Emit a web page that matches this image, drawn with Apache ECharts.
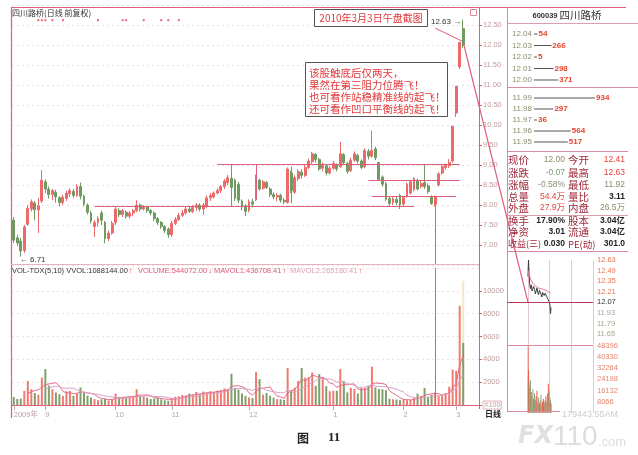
<!DOCTYPE html>
<html>
<head>
<meta charset="utf-8">
<script src="https://cdn.jsdelivr.net/npm/echarts@6/dist/echarts.min.js"></script>
<style>
html,body{margin:0;padding:0;background:#fff;}
#c{width:638px;height:455px;}
</style>
</head>
<body>
<div id="c"></div>
<script>
// 四川路桥 600039 daily bars, [open, close, low, high]
const candles = [
  [7.62,7.12,7.05,7.70],[7.18,7.05,6.98,7.25],[7.10,6.85,6.71,7.18],[6.86,7.45,6.80,7.50],
  [7.52,7.92,7.48,8.00],[7.90,8.08,7.84,8.14],[8.05,7.88,7.62,8.10],[7.88,7.98,7.30,8.18],
  [8.10,8.62,8.05,8.87],[8.58,8.40,8.30,8.64],[8.40,8.26,8.16,8.46],[8.26,8.36,8.12,8.40],
  [8.32,8.20,8.06,8.38],[8.18,8.06,7.96,8.22],[8.06,8.20,8.00,8.26],[8.16,8.30,8.10,8.36],
  [8.28,8.36,8.20,8.42],[8.34,8.24,8.18,8.40],[8.24,8.46,8.20,8.52],[8.46,8.22,8.14,8.56],
  [8.22,8.02,7.96,8.26],[8.00,7.82,7.76,8.04],[7.80,7.60,7.54,7.86],[7.46,7.56,7.20,7.62],
  [7.56,7.66,7.46,7.72],[7.80,7.62,7.50,7.86],[7.56,7.16,7.04,7.60],[7.16,7.30,7.10,7.36],
  [7.30,7.54,7.26,7.60],[7.56,7.90,7.50,7.95],[7.86,7.76,7.70,7.92],[7.76,7.86,7.70,7.90],
  [7.82,7.72,7.66,7.86],[7.72,7.80,7.66,7.85],[7.80,7.86,7.72,7.90],[7.86,8.00,7.82,8.12],
  [8.00,7.90,7.84,8.04],[7.90,7.96,7.86,8.00],[7.96,7.86,7.80,7.98],[7.86,7.80,7.74,7.90],
  [7.80,7.66,7.60,7.84],[7.66,7.56,7.50,7.70],[7.56,7.46,7.40,7.60],[7.46,7.36,7.30,7.50],
  [7.40,7.26,7.18,7.44],[7.26,7.54,7.20,7.60],[7.54,7.64,7.50,7.70],[7.64,7.74,7.60,7.80],
  [7.74,7.80,7.70,7.88],[7.80,7.90,7.76,7.95],[7.90,7.84,7.80,7.98],[7.84,7.94,7.80,8.00],
  [7.94,8.00,7.86,8.05],[8.00,7.90,7.84,8.04],[7.90,8.00,7.75,8.05],[7.96,8.18,7.92,8.24],
  [8.18,8.24,8.10,8.30],[8.20,8.30,8.16,8.34],[8.30,8.36,8.26,8.42],[8.36,8.46,8.30,8.50],
  [8.46,8.60,8.40,8.65],[8.56,8.68,8.50,8.75],[8.66,8.44,8.40,8.72],[8.62,8.16,8.10,8.66],
  [8.52,8.12,8.05,8.58],[8.10,7.96,7.86,8.14],[7.98,7.84,7.72,8.02],[7.86,8.08,7.82,8.14],
  [8.08,8.02,7.94,8.16],[8.14,8.70,8.10,8.76],[8.62,8.40,8.36,8.66],[8.42,8.58,8.38,8.62],
  [8.56,8.44,8.40,8.60],[8.40,8.26,8.20,8.44],[8.26,8.20,8.14,8.32],[8.20,8.24,8.10,8.30],
  [8.24,8.12,8.06,8.28],[8.12,8.08,8.02,8.18],[8.06,8.90,8.04,8.94],[8.80,8.36,8.30,8.86],
  [8.32,8.68,8.28,8.74],[8.66,8.84,8.60,8.90],[8.82,8.74,8.66,8.90],[8.74,8.94,8.70,9.00],
  [8.94,9.10,8.90,9.16],[9.08,9.28,9.02,9.33],[9.26,9.14,9.06,9.30],[9.14,8.90,8.86,9.18],
  [8.92,9.00,8.84,9.06],[8.98,8.80,8.74,9.02],[8.80,8.92,8.76,8.98],[8.92,9.04,8.88,9.10],
  [9.00,8.90,8.84,9.04],[8.96,9.28,8.92,9.58],[9.26,9.06,9.00,9.30],[9.04,8.84,8.78,9.08],
  [8.86,9.12,8.82,9.18],[9.12,9.28,9.08,9.34],[9.24,9.10,9.04,9.28],[9.10,8.94,8.90,9.14],
  [8.96,9.36,8.92,9.42],[9.34,9.22,9.14,9.40],[9.22,9.36,9.18,9.86],[9.40,9.18,9.12,9.46],
  [9.06,8.64,8.60,9.08],[8.70,8.52,8.46,8.74],[8.54,8.14,8.10,8.58],[8.16,8.04,7.98,8.22],
  [8.06,8.16,8.00,8.22],[8.14,8.06,8.00,8.20],[8.24,8.00,7.90,8.28],[8.02,8.18,7.98,8.22],
  [8.22,8.52,8.18,8.56],[8.30,8.58,8.26,8.62],[8.38,8.66,8.34,8.70],[8.62,8.40,8.36,8.66],
  [8.46,8.54,8.42,8.60],[8.56,8.46,8.40,9.00],[8.48,8.34,8.28,8.54],[8.20,8.04,8.00,8.24],
  [8.02,8.20,7.96,8.24],[8.50,8.78,8.46,8.82],[8.80,8.96,8.76,9.00],[8.94,9.00,8.88,9.04],
  [8.98,9.06,8.92,9.15],[9.10,9.97,9.05,9.97],[10.30,10.97,10.20,10.97],[11.45,12.07,11.40,12.07],
  [12.41,12.00,11.92,12.63]
];

// daily volume, in lots of 100 shares
const volumes = [
  700,520,560,1240,2100,1380,1050,900,2400,3150,1700,1380,1090,940,800,1200,
  1240,800,1000,1530,1100,820,650,520,420,500,560,400,480,1000,700,650,
  660,700,800,1380,780,760,650,520,560,620,500,420,380,600,720,760,
  880,820,1000,900,1150,950,1180,1100,1200,1150,1250,1300,1450,1400,2740,1500,
  1350,1000,800,650,600,2880,2260,900,1050,800,650,520,500,450,3240,1300,
  1500,2100,3240,2400,2450,2850,1680,2700,2400,1650,1200,1250,1250,3150,2100,1100,
  1500,1400,1000,1500,1500,1700,3360,1550,1400,1380,1300,550,500,480,420,500,
  420,440,600,1000,800,1500,700,900,1100,780,852.6205,1050,1600,3100,3000,8694.7005,
  5440.72
];
const vvol = 10881.44;           // projected full-day volume for the last session

const slotCount = 133;           // daily slots on the time axis (last 4 left empty)
const monthIdx = [0, 9, 29, 45, 67, 91, 111, 126];
const monthText = ['2009年', '9', '10', '11', '12', '1', '2', '3'];
const infoMarks = [7, 8, 9, 11, 14, 24, 31, 32, 37, 42, 44, 47];

// guide lines drawn over the daily bars: [fromIdx, fromPrice, toIdx, toPrice]
const guides = [
  [58, 9.02, 127, 9.02],
  [23, 7.96, 114, 7.96],
  [101, 8.61, 127, 8.61],
  [102, 8.21, 126, 8.21],
  [62, 9.02, 62, 7.96],
  [69, 9.02, 69, 8.12],
  [79, 8.96, 79, 8.04],
  [120, 8.21, 120, 6.5]
];
const guideVolIdx = 120;

// intraday (minutes after 9:30)
const intraMin   = [0,1,2,4,6,9,12,15,18,21,24,27,30,33,36,39,42,45,48,51,54,57,60,63,66,69,72,75,78,81,83,85];
const intraPrice = [12.41,12.55,12.63,12.45,12.32,12.25,12.30,12.22,12.20,12.28,12.24,12.18,12.22,12.26,12.20,12.17,
                    12.23,12.25,12.18,12.14,12.20,12.22,12.16,12.19,12.21,12.15,12.12,12.14,12.08,12.03,11.92,12.00];
const intraAvg   = [12.41,12.45,12.48,12.46,12.42,12.38,12.36,12.34,12.32,12.31,12.30,12.29,12.28,12.28,12.27,12.26,
                    12.26,12.26,12.25,12.24,12.24,12.24,12.23,12.23,12.23,12.22,12.22,12.21,12.21,12.20,12.19,12.19];
const intraVol   = [48396,26000,31000,22000,18000,24000,15000,12000,17000,10000,14000,9000,12000,16000,8000,11000,
                    7000,9000,13000,6000,8000,10000,7000,9000,12000,8000,14000,21000,16000,11000,9000,7000];
const prevClose = 12.07;

// order book
const askPrices = ['12.04', '12.03', '12.02', '12.01', '12.00'];
const askVols = [54, 266, 5, 298, 371];
const bidPrices = ['11.99', '11.98', '11.97', '11.96', '11.95'];
const bidVols = [934, 297, 36, 564, 517];

// quote table
const quoteLabelsL = ['现价', '涨跌', '涨幅', '总量', '外盘', '换手', '净资', '收益(三)'];
const quoteValuesL = ['12.00', '-0.07', '-0.58%', '54.4万', '27.9万', '17.90%', '3.01', '0.030'];
const quoteLabelsR = ['今开', '最高', '最低', '量比', '内盘', '股本', '流通', 'PE(动)'];
const quoteValuesR = ['12.41', '12.63', '11.92', '3.11', '26.5万', '3.04亿', '3.04亿', '301.0'];

const noteLines = ['该股触底后仅两天，', '果然在第三阻力位腾飞！', '也可看作站稳精准线的起飞！', '还可看作凹口平衡线的起飞！'];

// ---------------------------------------------------------------
const SANS = '"Liberation Sans","Noto Sans CJK SC",sans-serif';
const CJK = '"Noto Sans CJK SC","Liberation Sans",sans-serif';
const RED = '#ee6a6a', GREEN = '#6f9a62';
const VRED = '#f07a70', VGREEN = '#7f9f6b';
const PINK = '#dc5f7c';
const AXIS_TXT = '#c29c9c';

const movingAvg = (arr, n) => arr.map((v, i) => {
  if (i < n - 1) return '-';
  let s = 0;
  for (let k = i - n + 1; k <= i; k++) s += arr[k];
  return s / n;
});
const ma5 = movingAvg(volumes, 5);
const ma10 = movingAvg(volumes, 10);
const last = candles.length - 1;
const isUp = i => candles[i][1] >= candles[i][0];

const xCats = Array.from({length: slotCount}, (_, i) => String(i));
const monthSet = new Set(monthIdx);

let lowIdx = 0, highIdx = 0;
candles.forEach((c, i) => {
  if (c[2] < candles[lowIdx][2]) lowIdx = i;
  if (c[3] > candles[highIdx][3]) highIdx = i;
});
const lowVal = candles[lowIdx][2], highVal = candles[highIdx][3];

const chart = echarts.init(document.getElementById('c'), null, {renderer: 'canvas'});

const gridBase = {containLabel: false, outerBoundsMode: 'none'};
const hiddenAxis = {axisLine: {show: false}, axisTick: {show: false}, axisLabel: {show: false}, splitLine: {show: false}};

const option = {
  animation: false,
  backgroundColor: '#fff',
  textStyle: {fontFamily: SANS},
  grid: [
    Object.assign({left: 12, top: 5, width: 467, height: 260}, gridBase),
    Object.assign({left: 12, top: 268, width: 467, height: 137}, gridBase),
    Object.assign({left: 528, top: 260, width: 65, height: 84.6}, gridBase),
    Object.assign({left: 528, top: 346, width: 65, height: 66.8}, gridBase),
    Object.assign({left: 534, top: 28.25, width: 91.4, height: 57.5}, gridBase),
    Object.assign({left: 534, top: 92.5, width: 91.4, height: 55}, gridBase)
  ],
  xAxis: [
    Object.assign({type: 'category', gridIndex: 0, data: xCats, boundaryGap: true}, hiddenAxis),
    {
      type: 'category', gridIndex: 1, data: xCats, boundaryGap: true, offset: 3,
      axisLine: {show: true, lineStyle: {color: PINK, width: 1}},
      axisTick: {show: true, alignWithLabel: true, length: 5, interval: i => monthSet.has(i), lineStyle: {color: '#c9a4ac'}},
      axisLabel: {
        show: true, interval: i => monthSet.has(i), align: 'left', margin: 3,
        fontSize: 7.5, color: '#b9a2a2',
        formatter: (v, i) => monthText[monthIdx.indexOf(i)] || ''
      },
      splitLine: {show: false}
    },
    {type: 'value', gridIndex: 2, min: 0, max: 240, interval: 80,
     axisLine: {show: false}, axisTick: {show: false}, axisLabel: {show: false},
     splitLine: {show: true, lineStyle: {color: '#ebc6cf', width: 1}}},
    {type: 'value', gridIndex: 3, min: 0, max: 240, interval: 80,
     axisLine: {show: false}, axisTick: {show: false}, axisLabel: {show: false},
     splitLine: {show: true, lineStyle: {color: '#ebc6cf', width: 1}}},
    Object.assign({type: 'value', gridIndex: 4, min: 0, max: 1400}, hiddenAxis),
    Object.assign({type: 'value', gridIndex: 5, min: 0, max: 1400}, hiddenAxis)
  ],
  yAxis: [
    {
      type: 'value', gridIndex: 0, position: 'right', min: 6.5, max: 13, interval: 0.5,
      axisLine: {show: false},
      axisTick: {show: true, length: 3, lineStyle: {color: PINK}},
      axisLabel: {fontSize: 7.5, color: AXIS_TXT, margin: 4, showMinLabel: false, showMaxLabel: false,
                  formatter: v => v.toFixed(2)},
      splitLine: {show: true, lineStyle: {color: '#ebe3e3', type: [2, 3], width: 1}}
    },
    {
      type: 'value', gridIndex: 1, position: 'right', min: 0, max: 12000, interval: 2000,
      axisLine: {show: false},
      axisTick: {show: true, length: 3, lineStyle: {color: PINK}},
      axisLabel: {
        fontSize: 7.5, color: AXIS_TXT, margin: 4, showMaxLabel: false,
        formatter: v => v === 0 ? '{b|X100}' : String(v),
        rich: {b: {fontSize: 7, color: AXIS_TXT, borderColor: '#d9a0ae', borderWidth: 0.8, padding: [1, 1, 0, 1], lineHeight: 9}}
      },
      splitLine: {show: true, lineStyle: {color: '#ebe3e3', type: [2, 3], width: 1}}
    },
    {
      type: 'value', gridIndex: 2, position: 'right', min: 11.51, max: 12.63, interval: 0.14,
      axisLine: {show: false}, axisTick: {show: false}, splitLine: {show: false},
      axisLabel: {
        fontSize: 7.5, margin: 4, showMinLabel: false,
        formatter: v => v.toFixed(2),
        color: v => Math.abs(v - prevClose) < 0.005 ? '#333' : (v > prevClose ? '#e8744e' : '#a3ab93')
      }
    },
    {
      type: 'value', gridIndex: 3, position: 'right', min: 0, max: 48396, interval: 8066,
      axisLine: {show: false}, axisTick: {show: false}, splitLine: {show: false},
      axisLabel: {fontSize: 7.5, margin: 4, showMinLabel: false, color: '#e8846e', formatter: v => String(v)}
    },
    {type: 'category', gridIndex: 4, data: askPrices, inverse: true,
     axisLine: {show: false}, axisTick: {show: false}, splitLine: {show: false},
     axisLabel: {fontSize: 8, color: '#8e8c6c', margin: 2}},
    {type: 'category', gridIndex: 5, data: bidPrices, inverse: true,
     axisLine: {show: false}, axisTick: {show: false}, splitLine: {show: false},
     axisLabel: {fontSize: 8, color: '#8e8c6c', margin: 2}}
  ],
  series: [
    {
      type: 'candlestick', xAxisIndex: 0, yAxisIndex: 0, barWidth: 2.4,
      data: candles,
      itemStyle: {color: RED, color0: GREEN, borderColor: RED, borderColor0: GREEN, borderWidth: 1},
      markLine: {
        silent: true, symbol: ['none', 'none'], animation: false,
        label: {show: false},
        lineStyle: {color: PINK, width: 1, type: 'solid'},
        data: guides.map(g => [{coord: [g[0], g[1]]}, {coord: [g[2], g[3]]}])
      },
      markPoint: {
        silent: true, symbol: 'circle', symbolSize: 0, animation: false,
        itemStyle: {color: 'transparent'},
        label: {show: true, color: '#333', fontSize: 8, fontFamily: SANS},
        data: [
          {coord: [lowIdx, lowVal], label: {position: 'right', distance: 0, offset: [-1, 3], formatter: '← ' + lowVal.toFixed(2)}},
          {coord: [highIdx, highVal], label: {position: 'left', distance: 2, offset: [0, 2], formatter: highVal.toFixed(2) + ' →'}}
        ]
      }
    },
    {
      type: 'scatter', xAxisIndex: 0, yAxisIndex: 0, symbol: 'rect', symbolSize: [2, 2],
      itemStyle: {color: '#e04050'}, silent: true,
      data: infoMarks.map(i => [i, 12.62])
    },
    {
      type: 'bar', xAxisIndex: 1, yAxisIndex: 1, barWidth: 2, barGap: '-100%', silent: true,
      itemStyle: {color: '#f4e9c6'},
      data: volumes.map((v, i) => i === last ? vvol : '-')
    },
    {
      type: 'bar', xAxisIndex: 1, yAxisIndex: 1, barWidth: 2, barGap: '-100%', silent: true,
      data: volumes.map((v, i) => ({value: v, itemStyle: {color: isUp(i) ? VRED : VGREEN}})),
      markLine: {
        silent: true, symbol: ['none', 'none'], animation: false, label: {show: false},
        lineStyle: {color: PINK, width: 1, type: 'solid'},
        data: [{xAxis: guideVolIdx}]
      }
    },
    {type: 'line', xAxisIndex: 1, yAxisIndex: 1, data: ma5, symbol: 'none', silent: true,
     lineStyle: {color: '#e66a88', width: 1}},
    {type: 'line', xAxisIndex: 1, yAxisIndex: 1, data: ma10, symbol: 'none', silent: true,
     lineStyle: {color: '#d9a3c6', width: 1}},
    {type: 'line', xAxisIndex: 2, yAxisIndex: 2, symbol: 'none', silent: true,
     data: intraMin.map((m, i) => [m, intraPrice[i]]), lineStyle: {color: '#3b3b3b', width: 1}},
    {type: 'line', xAxisIndex: 2, yAxisIndex: 2, symbol: 'none', silent: true,
     data: intraMin.map((m, i) => [m, intraAvg[i]]), lineStyle: {color: '#e07a92', width: 1}},
    {type: 'bar', xAxisIndex: 3, yAxisIndex: 3, barWidth: 1, silent: true,
     data: intraMin.map((m, i) => ({value: [m, intraVol[i]],
       itemStyle: {color: (i === 0 || intraPrice[i] >= intraPrice[i - 1]) ? '#ea5a40' : '#8ea27a'}}))},
    {type: 'bar', xAxisIndex: 4, yAxisIndex: 4, barWidth: 1, barMinHeight: 3, silent: true,
     itemStyle: {color: '#555'}, data: askVols,
     label: {show: true, position: 'right', distance: 1, color: '#e6452c', fontSize: 8, fontWeight: 'bold'}},
    {type: 'bar', xAxisIndex: 5, yAxisIndex: 5, barWidth: 1, barMinHeight: 3, silent: true,
     itemStyle: {color: '#555'}, data: bidVols,
     label: {show: true, position: 'right', distance: 1, color: '#e6452c', fontSize: 8, fontWeight: 'bold'}}
  ]
};

chart.setOption(option);

// ---------- decorations, frame and text panels ----------
const mctx = document.createElement('canvas').getContext('2d');
const textW = (s, font) => { mctx.font = font; return mctx.measureText(s).width; };

const g = [];
const line = (x1, y1, x2, y2, stroke, w) => g.push({type: 'line', silent: true, z: 10,
  shape: {x1, y1, x2, y2}, style: {stroke, lineWidth: w || 1}});
const text = (x, y, s, fill, font, align, z) => g.push({type: 'text', silent: true, z: z || 12, x, y,
  style: {text: s, fill, font, textAlign: align || 'left', textVerticalAlign: 'middle'}});

// frame
line(11, 7.5, 626, 7.5, PINK, 1);
line(11.5, 7, 11.5, 418, PINK, 1.2);
line(479.5, 7, 479.5, 409, PINK, 1);
line(507.5, 7, 507.5, 412, '#d98a9c', 1);
line(11, 264.5, 479, 264.5, '#e7b3bf', 1);
// right panel separators
line(507, 23.5, 638, 23.5, '#d9a0ae', 1);
line(507, 87.5, 638, 87.5, '#d98a9c', 1);
line(507, 151.5, 628, 151.5, '#d98a9c', 1);
line(507, 215.5, 628, 215.5, '#d9a0ae', 1);
line(507, 251.5, 628, 251.5, '#d98a9c', 1);
line(507, 345.5, 593, 345.5, '#d98a9c', 1);
line(507, 411.5, 560, 411.5, '#d98a9c', 1);
g.push({type: 'rect', silent: true, z: 10, shape: {x: 470.5, y: 9.5, width: 6, height: 6},
  style: {fill: '#fff', stroke: '#d98a9c', lineWidth: 1}});

// main header
text(12, 13, '四川路桥(日线 前复权)', '#333', '8px ' + CJK);

// volume header
const VF = '7.5px ' + SANS;
const arrow = (a, b) => a >= b ? '↑' : '↓';
const head = [
  {x: 12, t: 'VOL-TDX(5,10) VVOL:' + (vvol * 100).toFixed(2), c: '#333', a: arrow(vvol, volumes[last - 1])},
  {x: 138, t: 'VOLUME:' + (volumes[last] * 100).toFixed(2), c: '#e0587a', a: arrow(volumes[last], volumes[last - 1])},
  {x: 214, t: 'MAVOL1:' + (ma5[last] * 100).toFixed(2), c: '#e0587a', a: arrow(ma5[last], ma5[last - 1])},
  {x: 290, t: 'MAVOL2:' + (ma10[last] * 100).toFixed(2), c: '#e2a0b8', a: arrow(ma10[last], ma10[last - 1])}
];
head.forEach(h => {
  text(h.x, 271, h.t, h.c, VF);
  text(h.x + textW(h.t, VF) + 1, 271, h.a, '#e23a3a', 'bold ' + VF);
});

// captioned boxes
g.push({type: 'rect', silent: true, z: 11, shape: {x: 314.5, y: 9.5, width: 113, height: 17},
  style: {fill: '#fff', stroke: '#555', lineWidth: 1}});
text(371, 18, '2010年3月3日午盘截图', '#e4383a', '10px ' + CJK, 'center');
g.push({type: 'rect', silent: true, z: 11, shape: {x: 305.5, y: 62.5, width: 142, height: 54},
  style: {fill: '#fff', stroke: '#555', lineWidth: 1}});
noteLines.forEach((s, k) => text(309, 73 + k * 12, s, '#e4383a', '10.5px ' + CJK));

// order book title
const T1 = 'bold 7.5px ' + SANS, T2 = '10.5px ' + CJK;
const w1 = textW('600039', T1), w2 = textW('四川路桥', T2);
const tx = 567 - (w1 + w2 + 2) / 2;
text(tx, 15.5, '600039', '#333', T1);
text(tx + w1 + 2, 15.5, '四川路桥', '#333', T2);

// quote table
const rowsY = [160, 173, 185, 197, 208, 221, 232, 244];
const colL = ['#8e8c66', '#7f9a78', '#8e8c76', '#e8403a', '#e8403a', '#222', '#222', '#222'];
const colR = ['#e8403a', '#e8403a', '#8e8c66', '#222', '#8e8c66', '#222', '#222', '#222'];
const boldL = [0, 0, 0, 0, 0, 1, 1, 1], boldR = [0, 0, 0, 1, 0, 1, 1, 1];
rowsY.forEach((y, k) => {
  const lf = quoteLabelsL[k].length > 2 ? '9px ' : '10.5px ';
  text(508, y, quoteLabelsL[k], '#a0283a', lf + CJK);
  text(565, y, quoteValuesL[k], colL[k], (boldL[k] ? 'bold ' : '') + '8.5px ' + SANS, 'right');
  const rf = quoteLabelsR[k].length > 2 ? '9.5px ' : '10.5px ';
  text(568, y, quoteLabelsR[k], '#a0283a', rf + CJK);
  text(625, y, quoteValuesR[k], colR[k], (boldR[k] ? 'bold ' : '') + '8.5px ' + SANS, 'right');
});

// axis caption, figure caption, stamp
text(485, 414, '日线', '#222', 'bold 8px ' + CJK);
text(297, 438, '图', '#222', 'bold 12px ' + CJK);
text(328, 438, '11', '#222', 'bold 13px "Liberation Serif",serif');
text(562, 415, '179443:55AM', '#cdcdcd', '9px ' + SANS);
text(518, 437, 'FX', '#e0e0e0', 'bold italic 24px "DejaVu Sans",sans-serif');
text(553, 437, '110', '#dddddd', '28px ' + SANS);
text(598, 442, '.com', '#dddddd', '13px ' + SANS);

// 12.07 reference line in the intraday panel and the connector from the last daily bar
const refPt = chart.convertToPixel({gridIndex: 2}, [0, prevClose]);
line(507, Math.round(refPt[1]) + 0.5, 593, Math.round(refPt[1]) + 0.5, '#b43a58', 1.2);
const barPt = chart.convertToPixel({gridIndex: 0}, [last, candles[last - 1][1]]);
line(barPt[0], barPt[1], refPt[0], refPt[1], '#e05a7a', 1.2);
line(barPt[0] - 28, barPt[1] - 14, barPt[0] - 1, barPt[1] - 1, '#e05a7a', 1);

chart.setOption({graphic: g});
</script>
</body>
</html>
